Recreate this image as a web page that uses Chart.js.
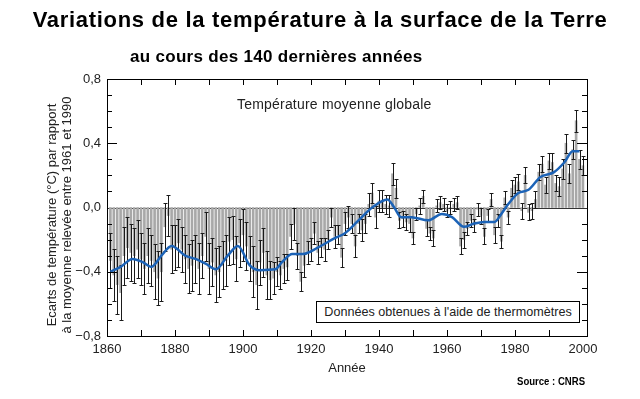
<!DOCTYPE html>
<html lang="fr">
<head>
<meta charset="utf-8">
<title>Variations de la température à la surface de la Terre</title>
<script src="https://cdn.jsdelivr.net/npm/chart.js@4"></script>
<style>
  html, body { margin: 0; padding: 0; background: #fff; }
  #wrap { position: relative; width: 640px; height: 399px; overflow: hidden; font-family: "Liberation Sans", Arial, sans-serif; }
  #wrap canvas { position: absolute; left: 0; top: 0; }
  .txt { position: absolute; white-space: nowrap; color: #000; line-height: 1; }
  #title { left: 0; width: 640px; text-align: center; top: 9px; font-size: 22px; letter-spacing: 0.7px; font-weight: bold; }
  #subtitle { left: 130px; top: 48px; font-size: 17px; letter-spacing: 0.3px; font-weight: bold; }
  #inner { left: 237px; top: 97px; font-size: 14px; letter-spacing: 0.2px; color: #222; }
  #box { left: 316px; top: 301px; width: 262px; height: 20px; line-height: 20px; border: 1px solid #000; background: #fff; font-size: 12.6px; text-align: center; color: #222; }
  #source { left: 517px; top: 376px; font-size: 11px; font-weight: bold; transform: scaleX(0.87); transform-origin: left center; }
</style>
</head>
<body>
<div id="wrap">
  <canvas id="chart" width="640" height="399"></canvas>
  <div class="txt" id="title">Variations de la température à la surface de la Terre</div>
  <div class="txt" id="subtitle">au cours des 140 dernières années</div>
  <div class="txt" id="inner">Température moyenne globale</div>
  <div class="txt" id="box">Données obtenues à l'aide de thermomètres</div>
  <div class="txt" id="source">Source : CNRS</div>
</div>
<script>
// annual anomalies (°C, relative to 1961-1990), 1861 -> 2000
const firstYear = 1861;
const anomalies = [
  -0.33, -0.42, -0.48, -0.53, -0.30, -0.25, -0.28, -0.30, -0.26, -0.32,
  -0.38, -0.30, -0.33, -0.40, -0.44, -0.40, -0.12, -0.05, -0.26, -0.25,
  -0.22, -0.26, -0.32, -0.38, -0.36, -0.32, -0.38, -0.30, -0.18, -0.38,
  -0.34, -0.42, -0.40, -0.36, -0.33, -0.21, -0.20, -0.32, -0.22, -0.17,
  -0.24, -0.32, -0.40, -0.48, -0.34, -0.28, -0.42, -0.45, -0.44, -0.40,
  -0.42, -0.38, -0.37, -0.18, -0.10, -0.30, -0.46, -0.36, -0.28, -0.26,
  -0.16, -0.28, -0.25, -0.26, -0.20, -0.06, -0.18, -0.17, -0.31, -0.10,
  -0.06, -0.10, -0.24, -0.10, -0.14, -0.10, 0.02, 0.09, -0.06, 0.04,
  0.04, 0.02, 0.01, 0.21, 0.12, -0.08, -0.07, -0.09, -0.10, -0.19,
  -0.04, 0.01, 0.07, -0.13, -0.16, -0.19, 0.01, 0.03, 0.02, -0.02,
  0.00, 0.02, 0.03, -0.24, -0.20, -0.13, -0.08, -0.11, -0.01, -0.05,
  -0.18, -0.05, 0.05, -0.17, -0.08, -0.21, 0.06, -0.06, 0.12, 0.14,
  0.16, -0.02, 0.20, -0.03, -0.02, 0.05, 0.22, 0.27, 0.14, 0.29,
  0.28, 0.15, 0.13, 0.24, 0.40, 0.21, 0.36, 0.54, 0.30, 0.26,
];

// half-length of the error bars, same years
const errors = [
  0.17, 0.16, 0.18, 0.17, 0.18, 0.19, 0.18, 0.17, 0.18, 0.16,
  0.16, 0.17, 0.16, 0.17, 0.17, 0.18, 0.15, 0.13, 0.15, 0.14,
  0.15, 0.14, 0.15, 0.15, 0.16, 0.15, 0.16, 0.14, 0.15, 0.16,
  0.15, 0.17, 0.16, 0.15, 0.16, 0.15, 0.15, 0.14, 0.15, 0.16,
  0.15, 0.14, 0.16, 0.15, 0.14, 0.15, 0.15, 0.12, 0.10, 0.09,
  0.09, 0.09, 0.08, 0.08, 0.10, 0.08, 0.06, 0.07, 0.07, 0.07,
  0.07, 0.07, 0.06, 0.07, 0.06, 0.06, 0.07, 0.06, 0.06, 0.07,
  0.07, 0.06, 0.07, 0.06, 0.07, 0.06, 0.07, 0.06, 0.07, 0.07,
  0.07, 0.06, 0.07, 0.07, 0.06, 0.05, 0.05, 0.05, 0.05, 0.04,
  0.04, 0.05, 0.04, 0.05, 0.04, 0.05, 0.04, 0.04, 0.04, 0.04,
  0.04, 0.04, 0.04, 0.05, 0.05, 0.04, 0.04, 0.04, 0.04, 0.05,
  0.05, 0.04, 0.04, 0.05, 0.04, 0.04, 0.04, 0.04, 0.05, 0.05,
  0.05, 0.05, 0.05, 0.05, 0.05, 0.05, 0.05, 0.05, 0.05, 0.05,
  0.06, 0.05, 0.06, 0.06, 0.06, 0.06, 0.06, 0.07, 0.06, 0.06,
];

// smoothed curve
const smoothYears = [
  1861, 1864, 1867.5, 1870.5, 1873, 1876, 1879, 1883, 1886, 1889,
  1892, 1895.5, 1898.5, 1902, 1905, 1909.5, 1911.5, 1914.5, 1917.5, 1922,
  1927, 1930, 1934, 1938, 1942.5, 1944.5, 1946.5, 1949.5, 1954.5, 1958.5,
  1961.5, 1965, 1968, 1971, 1974, 1976, 1978, 1981, 1984, 1987.5,
  1991.5, 1994.5, 1997, 1999,
];
const smoothValues = [
  -0.40, -0.37, -0.32, -0.34, -0.37, -0.30, -0.24, -0.30, -0.32, -0.35,
  -0.385, -0.30, -0.24, -0.36, -0.39, -0.385, -0.34, -0.29, -0.29, -0.25,
  -0.19, -0.16, -0.08, 0.00, 0.05, 0.00, -0.06, -0.06, -0.08, -0.04,
  -0.06, -0.12, -0.10, -0.09, -0.09, -0.04, 0.02, 0.09, 0.11, 0.19,
  0.22, 0.28, 0.35, 0.35,
];

const xTicks = [1860, 1880, 1900, 1920, 1940, 1960, 1980, 2000];
const yTicks = [-0.8, -0.4, 0, 0.4, 0.8];
const yTitle = ['Ecarts de température (°C) par rapport', 'à la moyenne relevée entre 1961 et 1990'];

const years = anomalies.map((_, i) => firstYear + i);
const fmtY = (v) => (v < 0 ? '\u2212' : '') + Math.abs(v).toFixed(1).replace('.', ',');

const errorBars = {
  id: 'errorBars',
  beforeDatasetsDraw(chart) {
    const { ctx, chartArea, scales: { y } } = chart;
    const zy = Math.round(y.getPixelForValue(0)) + 0.5;
    ctx.save();
    ctx.strokeStyle = '#333';
    ctx.lineWidth = 1;
    ctx.beginPath();
    ctx.moveTo(chartArea.left, zy);
    ctx.lineTo(chartArea.right, zy);
    ctx.stroke();
    ctx.restore();
  },
  afterDatasetDraw(chart, args) {
    if (args.index !== 1) return;
    const { ctx, scales: { x, y } } = chart;
    ctx.save();
    ctx.strokeStyle = '#1a1a1a';
    ctx.lineWidth = 1;
    ctx.beginPath();
    years.forEach((yr, i) => {
      const px = Math.round(x.getPixelForValue(yr)) + 0.5;
      const top = Math.round(y.getPixelForValue(anomalies[i] + errors[i])) + 0.5;
      const bot = Math.round(y.getPixelForValue(anomalies[i] - errors[i])) + 0.5;
      ctx.moveTo(px, top);
      ctx.lineTo(px, bot);
      ctx.moveTo(px - 2, top);
      ctx.lineTo(px + 2, top);
      ctx.moveTo(px - 2, bot);
      ctx.lineTo(px + 2, bot);
    });
    ctx.stroke();
    ctx.restore();
  },
  afterDraw(chart) {
    const { ctx, chartArea: a, scales: { x, y } } = chart;
    ctx.save();
    ctx.strokeStyle = '#000';
    ctx.lineWidth = 1;
    ctx.strokeRect(Math.round(a.left) + 0.5, Math.round(a.top) + 0.5,
      Math.round(a.right - a.left), Math.round(a.bottom - a.top));
    ctx.beginPath();
    // inner ticks on the x axis, every 10 years
    for (let yr = 1870; yr < 2000; yr += 10) {
      const px = Math.round(x.getPixelForValue(yr)) + 0.5;
      ctx.moveTo(px, a.top);
      ctx.lineTo(px, a.top + 6);
      ctx.moveTo(px, a.bottom);
      ctx.lineTo(px, a.bottom - 6);
    }
    // inner ticks on the y axis, every 0.1
    for (let k = -7; k <= 7; k++) {
      if (k === 0) continue;
      const py = Math.round(y.getPixelForValue(k / 10)) + 0.5;
      const len = k % 4 === 0 ? 10 : 5;
      ctx.moveTo(a.left, py);
      ctx.lineTo(a.left + len, py);
      ctx.moveTo(a.right, py);
      ctx.lineTo(a.right - len, py);
    }
    ctx.stroke();

    // y axis title, two rotated lines
    ctx.fillStyle = '#222';
    ctx.font = '13px "Liberation Sans", Arial, sans-serif';
    ctx.textAlign = 'center';
    ctx.textBaseline = 'middle';
    yTitle.forEach((line, i) => {
      ctx.save();
      ctx.translate(52 + i * 15.5, 215);
      ctx.rotate(-Math.PI / 2);
      ctx.fillText(line, 0, 0);
      ctx.restore();
    });
    ctx.restore();
  },
};

new Chart(document.getElementById('chart'), {
  type: 'bar',
  data: {
    datasets: [
      {
        type: 'line',
        data: smoothYears.map((yr, i) => ({ x: yr, y: smoothValues[i] })),
        borderColor: '#1c63b7',
        borderWidth: 2.5,
        pointRadius: 0,
        cubicInterpolationMode: 'monotone',
        order: 0,
      },
      {
        type: 'bar',
        data: years.map((yr, i) => ({ x: yr, y: anomalies[i] })),
        backgroundColor: '#a8a8a8',
        barThickness: 2,
        order: 1,
      },
    ],
  },
  options: {
    responsive: false,
    animation: false,
    layout: { padding: { top: 79, right: 53, bottom: 22, left: 0 } },
    plugins: { legend: { display: false }, tooltip: { enabled: false } },
    scales: {
      x: {
        type: 'linear',
        min: 1860,
        max: 2001.2,
        offset: false,
        grid: { display: false, drawTicks: false },
        border: { display: false },
        ticks: {
          color: '#222',
          font: { family: 'Liberation Sans', size: 13 },
          padding: 6,
          maxRotation: 0,
          autoSkip: false,
          callback: (v) => String(v),
        },
        afterBuildTicks: (s) => { s.ticks = xTicks.map((v) => ({ value: v })); },
        afterFit: (s) => { s.height = 41; },
        title: {
          display: true,
          text: 'Année',
          color: '#222',
          font: { family: 'Liberation Sans', size: 13 },
          padding: { top: 0, bottom: 1 },
        },
      },
      y: {
        min: -0.8,
        max: 0.8,
        grid: { display: false, drawTicks: false },
        border: { display: false },
        ticks: {
          color: '#222',
          font: { family: 'Liberation Sans', size: 13 },
          padding: 6,
          autoSkip: false,
          callback: (v) => fmtY(v),
        },
        afterBuildTicks: (s) => { s.ticks = yTicks.map((v) => ({ value: v })); },
        afterFit: (s) => { s.width = 107; },
      },
    },
  },
  plugins: [errorBars],
});
</script>
</body>
</html>
